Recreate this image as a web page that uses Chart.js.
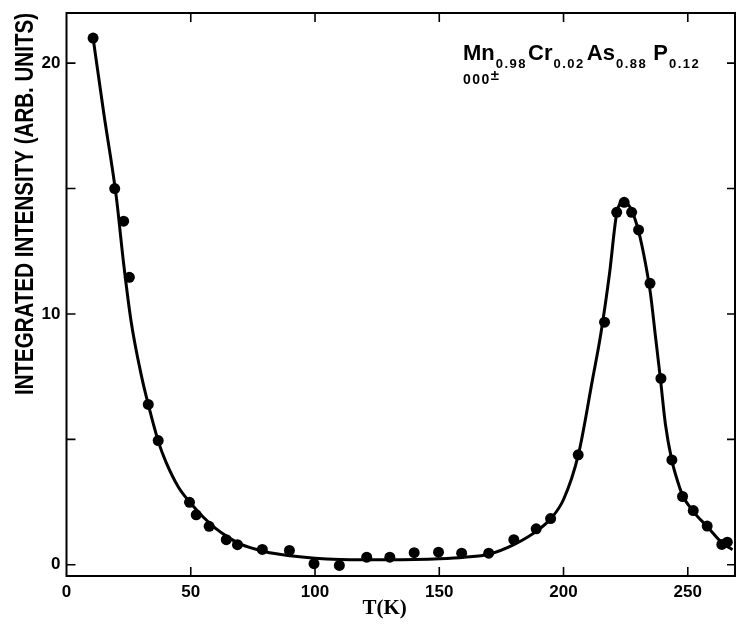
<!DOCTYPE html>
<html>
<head>
<meta charset="utf-8">
<script src="https://cdn.jsdelivr.net/npm/chart.js@4/dist/chart.umd.min.js"></script>
<style>
  html, body { margin: 0; padding: 0; background: #fff; }
  #wrap { width: 736px; height: 625px; position: relative; }
</style>
</head>
<body>
<div id="wrap"><canvas id="c" width="736" height="625"></canvas></div>
<script>
// ---- data ----
const tempK = [10.7, 19.4, 23.0, 25.3, 32.9, 36.9, 49.5, 52.2, 57.4, 64.3, 68.8, 78.8, 89.7, 99.6, 109.8, 120.8, 130.1, 139.9, 149.7, 159.0, 169.9, 180.0, 189.0, 194.8, 205.9, 216.5, 221.4, 224.4, 227.4, 230.2, 234.8, 239.2, 243.6, 247.9, 252.2, 257.8, 263.7, 265.9];
const intensity = [21.0, 15.0, 13.7, 11.46, 6.39, 4.95, 2.49, 1.99, 1.53, 1.0, 0.80, 0.61, 0.57, 0.04, -0.03, 0.30, 0.30, 0.48, 0.50, 0.46, 0.46, 1.0, 1.43, 1.84, 4.38, 9.67, 14.05, 14.45, 14.05, 13.35, 11.22, 7.43, 4.18, 2.72, 2.16, 1.54, 0.81, 0.90];

const curveT = [10.7, 15, 20, 23, 26, 30, 33, 37, 40, 45, 50, 55, 60, 65, 70, 80, 90, 100, 110, 120, 130, 140, 150, 160, 170, 180, 190, 195, 200, 206, 211.6, 215, 218.5, 221.4, 224.5, 227.5, 230.2, 233, 235, 237, 239, 241, 243.5, 246, 248, 252, 258, 264, 268];
const curveI = [21.0, 18.0, 14.7, 12.0, 9.7, 7.6, 6.35, 4.9, 4.1, 3.1, 2.45, 1.9, 1.45, 1.1, 0.82, 0.52, 0.36, 0.26, 0.21, 0.2, 0.2, 0.21, 0.24, 0.3, 0.42, 0.8, 1.4, 1.85, 2.6, 4.4, 7.35, 9.2, 11.6, 14.0, 14.5, 14.1, 13.3, 12.0, 10.8, 9.1, 7.4, 5.6, 4.2, 3.3, 2.75, 2.15, 1.5, 0.85, 0.6];

const xTickValues = [0, 50, 100, 150, 200, 250];
const yTickValues = [0, 5, 10, 15, 20];
const yLabelledTicks = [0, 10, 20];

const yTitle = 'INTEGRATED INTENSITY (ARB. UNITS)';
const xTitle = 'T(K)';
const formulaParts = [['Mn', '0.98'], ['Cr', '0.02'], ['As', '0.88'], ['P', '0.12']];
const reflection = '000';
const reflectionSign = '±';

// ---- chart ----
const pts = tempK.map((t, i) => ({ x: t, y: intensity[i] }));
const curve = curveT.map((t, i) => ({ x: t, y: curveI[i] }));

const framePlugin = {
  id: 'frame',
  afterDraw(chart) {
    const { ctx, chartArea: a, scales: { x, y } } = chart;
    ctx.save();
    ctx.strokeStyle = '#000';
    ctx.lineWidth = 2;
    ctx.strokeRect(a.left, a.top, a.right - a.left, a.bottom - a.top);
    ctx.lineWidth = 1.6;
    ctx.beginPath();
    xTickValues.forEach(v => {
      if (v === 0) return;
      const px = x.getPixelForValue(v);
      ctx.moveTo(px, a.bottom); ctx.lineTo(px, a.bottom - 9);
      ctx.moveTo(px, a.top); ctx.lineTo(px, a.top + 9);
    });
    yTickValues.forEach(v => {
      const py = y.getPixelForValue(v);
      ctx.moveTo(a.left, py); ctx.lineTo(a.left + 9, py);
      ctx.moveTo(a.right, py); ctx.lineTo(a.right - 8, py);
    });
    ctx.stroke();

    // axis titles
    ctx.fillStyle = '#000';
    ctx.font = 'bold 21px "Liberation Serif", "Times New Roman", serif';
    ctx.textAlign = 'center';
    ctx.textBaseline = 'alphabetic';
    ctx.fillText(xTitle, x.getPixelForValue(128), 614);

    ctx.save();
    ctx.font = 'bold 25px "Liberation Sans", Arial, sans-serif';
    const tw = ctx.measureText(yTitle).width;
    ctx.translate(33, 204);
    ctx.rotate(-Math.PI / 2);
    ctx.scale(382 / tw, 1);
    ctx.textAlign = 'center';
    ctx.fillText(yTitle, 0, 0);
    ctx.restore();

    // formula annotation
    ctx.textAlign = 'left';
    let cx = 463;
    const gaps = [1, 2, 6, 1];
    formulaParts.forEach(([el, sub], i) => {
      ctx.font = 'bold 22px "Liberation Sans", Arial, sans-serif';
      if ('letterSpacing' in ctx) ctx.letterSpacing = '0px';
      ctx.fillText(el, cx, 59.5);
      cx += ctx.measureText(el).width + 1;
      ctx.font = 'bold 13px "Liberation Sans", Arial, sans-serif';
      if ('letterSpacing' in ctx) ctx.letterSpacing = '1.5px';
      ctx.fillText(sub, cx, 67.5);
      cx += ctx.measureText(sub).width + gaps[i];
    });
    ctx.font = 'bold 14px "Liberation Sans", Arial, sans-serif';
    if ('letterSpacing' in ctx) ctx.letterSpacing = '1.5px';
    ctx.fillText(reflection, 463, 84);
    const w = ctx.measureText(reflection).width;
    if ('letterSpacing' in ctx) ctx.letterSpacing = '0px';
    ctx.font = 'bold 15px "Liberation Sans", Arial, sans-serif';
    ctx.fillText(reflectionSign, 463 + w, 80);
    ctx.restore();
  }
};

new Chart(document.getElementById('c'), {
  data: {
    datasets: [
      {
        type: 'line',
        data: curve,
        borderColor: '#000',
        borderWidth: 3,
        pointRadius: 0,
        fill: false,
        cubicInterpolationMode: 'monotone',
        clip: false,
        order: 2
      },
      {
        type: 'scatter',
        data: pts,
        backgroundColor: '#000',
        borderColor: '#000',
        borderWidth: 0,
        pointRadius: 5.5,
        clip: false,
        order: 1
      }
    ]
  },
  options: {
    responsive: false,
    animation: false,
    devicePixelRatio: 1,
    layout: { autoPadding: false, padding: { top: 13, right: 1, left: 0, bottom: 0 } },
    plugins: { legend: { display: false }, tooltip: { enabled: false } },
    scales: {
      x: {
        type: 'linear',
        min: 0, max: 269,
        grid: { display: false, drawTicks: false },
        border: { display: false },
        afterBuildTicks: s => { s.ticks = xTickValues.map(v => ({ value: v })); },
        afterFit: s => { s.height = 49; s.paddingLeft = 0; s.paddingRight = 0; },
        ticks: {
          color: '#000', padding: 6, maxRotation: 0, autoSkip: false,
          font: { family: '"Liberation Sans", Arial, sans-serif', size: 17, weight: 'bold' }
        }
      },
      y: {
        type: 'linear',
        min: -0.45, max: 22,
        grid: { display: false, drawTicks: false },
        border: { display: false },
        afterBuildTicks: s => { s.ticks = yTickValues.map(v => ({ value: v })); },
        afterFit: s => { s.width = 66.5; s.paddingTop = 0; s.paddingBottom = 0; },
        ticks: {
          color: '#000', padding: 6, autoSkip: false,
          font: { family: '"Liberation Sans", Arial, sans-serif', size: 17, weight: 'bold' },
          callback: v => yLabelledTicks.includes(v) ? String(v) : ''
        }
      }
    }
  },
  plugins: [framePlugin]
});
</script>
</body>
</html>
